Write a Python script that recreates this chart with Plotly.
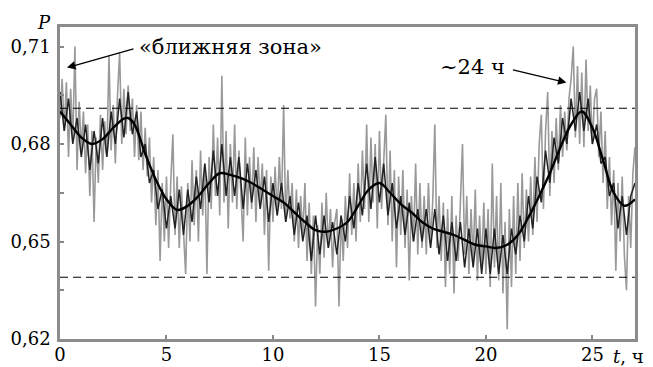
import numpy as np
import plotly.graph_objects as go

# raw signal, step 0.1 h
raw_p = [
    0.688, 0.700, 0.684, 0.699, 0.676, 0.697, 0.681, 0.710, 0.672, 0.693,
    0.678, 0.690, 0.671, 0.686, 0.664, 0.684, 0.656, 0.682, 0.668, 0.689,
    0.672, 0.687, 0.676, 0.707, 0.678, 0.692, 0.674, 0.695, 0.708, 0.680,
    0.697, 0.683, 0.698, 0.684, 0.694, 0.676, 0.692, 0.675, 0.690, 0.672,
    0.685, 0.670, 0.682, 0.662, 0.676, 0.655, 0.672, 0.644, 0.668, 0.650,
    0.670, 0.648, 0.668, 0.683, 0.652, 0.670, 0.648, 0.667, 0.653, 0.640,
    0.668, 0.650, 0.675, 0.655, 0.672, 0.650, 0.678, 0.658, 0.674, 0.640,
    0.676, 0.660, 0.686, 0.664, 0.682, 0.658, 0.701, 0.662, 0.684, 0.654,
    0.680, 0.662, 0.686, 0.660, 0.678, 0.664, 0.650, 0.682, 0.658, 0.676,
    0.660, 0.679, 0.656, 0.676, 0.662, 0.674, 0.652, 0.672, 0.641, 0.670,
    0.656, 0.673, 0.658, 0.676, 0.660, 0.692, 0.656, 0.672, 0.657, 0.668,
    0.650, 0.666, 0.648, 0.664, 0.652, 0.668, 0.644, 0.662, 0.640, 0.658,
    0.630, 0.655, 0.640, 0.662, 0.645, 0.665, 0.648, 0.660, 0.642, 0.656,
    0.660, 0.630, 0.658, 0.644, 0.664, 0.648, 0.671, 0.652, 0.668, 0.650,
    0.674, 0.656, 0.678, 0.660, 0.686, 0.656, 0.682, 0.662, 0.680, 0.654,
    0.684, 0.660, 0.676, 0.689, 0.655, 0.678, 0.650, 0.672, 0.642, 0.670,
    0.652, 0.672, 0.648, 0.666, 0.638, 0.664, 0.650, 0.674, 0.646, 0.668,
    0.648, 0.664, 0.646, 0.668, 0.650, 0.662, 0.686, 0.648, 0.664, 0.644,
    0.662, 0.636, 0.660, 0.640, 0.664, 0.634, 0.658, 0.644, 0.662, 0.680,
    0.646, 0.664, 0.640, 0.660, 0.644, 0.666, 0.638, 0.658, 0.642, 0.662,
    0.640, 0.660, 0.636, 0.674, 0.642, 0.664, 0.638, 0.668, 0.634, 0.656,
    0.623, 0.660, 0.636, 0.664, 0.640, 0.668, 0.644, 0.671, 0.648, 0.666,
    0.650, 0.670, 0.652, 0.676, 0.656, 0.680, 0.689, 0.660, 0.684, 0.696,
    0.664, 0.684, 0.668, 0.688, 0.672, 0.692, 0.676, 0.690, 0.678, 0.694,
    0.700, 0.710, 0.682, 0.704, 0.680, 0.702, 0.679, 0.706, 0.684, 0.698,
    0.680, 0.694, 0.697, 0.676, 0.690, 0.668, 0.684, 0.660, 0.676, 0.655,
    0.672, 0.641, 0.668, 0.650, 0.670, 0.646, 0.635, 0.664, 0.648, 0.671,
    0.679,
]

# partially filtered signal, step 0.2 h
mid_p = [
    0.696, 0.684, 0.694, 0.680, 0.688, 0.676, 0.686, 0.672, 0.684, 0.674,
    0.688, 0.676, 0.690, 0.680, 0.694, 0.682, 0.696, 0.683, 0.690, 0.676,
    0.680, 0.668, 0.672, 0.660, 0.666, 0.654, 0.664, 0.654, 0.666, 0.652,
    0.666, 0.656, 0.670, 0.660, 0.674, 0.662, 0.678, 0.664, 0.680, 0.664,
    0.676, 0.664, 0.676, 0.660, 0.674, 0.662, 0.672, 0.660, 0.670, 0.656,
    0.668, 0.658, 0.668, 0.656, 0.664, 0.652, 0.662, 0.650, 0.658, 0.644,
    0.658, 0.646, 0.658, 0.648, 0.656, 0.646, 0.658, 0.650, 0.664, 0.654,
    0.668, 0.658, 0.674, 0.660, 0.676, 0.662, 0.674, 0.658, 0.668, 0.654,
    0.664, 0.652, 0.662, 0.650, 0.660, 0.650, 0.660, 0.648, 0.660, 0.646,
    0.658, 0.644, 0.656, 0.644, 0.656, 0.642, 0.654, 0.642, 0.654, 0.640,
    0.654, 0.640, 0.654, 0.640, 0.652, 0.640, 0.654, 0.646, 0.658, 0.650,
    0.664, 0.654, 0.670, 0.662, 0.678, 0.668, 0.682, 0.674, 0.688, 0.680,
    0.694, 0.684, 0.696, 0.684, 0.694, 0.680, 0.686, 0.674, 0.676, 0.664,
    0.668, 0.654, 0.664, 0.652, 0.664, 0.668,
]

# smoothed curve
smooth_t = [0, 0.5, 1.0, 1.5, 2.0, 2.5, 3.0, 3.2, 3.5, 4.0, 4.5, 5.0, 5.5, 6.0, 6.5,
            7.0, 7.5, 8.0, 8.5, 9.0, 9.5, 10.0, 10.5, 11.0, 11.5, 12.0, 12.5, 13.0,
            13.5, 14.0, 14.5, 15.0, 15.5, 16.0, 16.5, 17.0, 17.5, 18.0, 18.5, 19.0,
            19.5, 20.0, 20.5, 21.0, 21.5, 22.0, 22.5, 23.0, 23.5, 24.0, 24.5, 25.0,
            25.5, 26.0, 26.5, 27.0]
smooth_p = [0.690, 0.686, 0.682, 0.680, 0.6815, 0.685, 0.6878, 0.688, 0.686, 0.677,
            0.669, 0.663, 0.6597, 0.661, 0.664, 0.668, 0.671, 0.6705, 0.6695, 0.668,
            0.666, 0.664, 0.662, 0.659, 0.656, 0.6535, 0.653, 0.654, 0.656, 0.661,
            0.666, 0.668, 0.665, 0.6615, 0.659, 0.656, 0.654, 0.653, 0.652, 0.6505,
            0.649, 0.6485, 0.648, 0.649, 0.652, 0.6575, 0.664, 0.671, 0.679, 0.686,
            0.690, 0.685, 0.675, 0.665, 0.661, 0.663]

levels = [0.691, 0.639]
y_ticks = [0.62, 0.635, 0.65, 0.665, 0.68, 0.695, 0.71]
y_labels = ["0,62", "", "0,65", "", "0,68", "", "0,71"]
x_ticks = [0, 5, 10, 15, 20, 25]
x_labels = ["0", "5", "10", "15", "20", "25"]

raw_t = np.linspace(0, 27, len(raw_p))
mid_t = np.linspace(0, 27, len(mid_p))

FONT = "DejaVu Serif"
FS = 18
FA = 21
W, H = 653, 367
ML, MR, MT, MB = 60, 18, 27, 28

fig = go.Figure()
fig.add_trace(go.Scatter(x=raw_t, y=raw_p, mode="lines",
                         line=dict(color="#999999", width=1.6), hoverinfo="skip"))
fig.add_trace(go.Scatter(x=mid_t, y=mid_p, mode="lines",
                         line=dict(color="#222222", width=1.5), hoverinfo="skip"))
fig.add_trace(go.Scatter(x=smooth_t, y=smooth_p, mode="lines", line_shape="spline",
                         line=dict(color="#000000", width=2.4), hoverinfo="skip"))
for lv in levels:
    fig.add_trace(go.Scatter(x=[0, 27], y=[lv, lv], mode="lines",
                             line=dict(color="#000000", width=1.2, dash="8px,5px"),
                             hoverinfo="skip"))

fig.update_layout(
    width=W, height=H,
    margin=dict(l=ML, r=MR, t=MT, b=MB, autoexpand=False),
    paper_bgcolor="white", plot_bgcolor="white",
    showlegend=False,
    font=dict(family=FONT, size=FS, color="black"),
)
fig.update_xaxes(range=[0, 27], tickvals=x_ticks, ticktext=x_labels,
                 ticks="inside", ticklen=4, tickcolor="#888", tickwidth=1.5,
                 showline=True, linecolor="#8c8c8c", linewidth=2.5, mirror=True,
                 showgrid=False, zeroline=False, automargin=False,
                 ticklabelstandoff=-2,
                 tickfont=dict(size=FS, family=FONT))
fig.update_yaxes(range=[0.62, 0.716], tickvals=y_ticks, ticktext=y_labels,
                 ticks="inside", ticklen=4, tickcolor="#888", tickwidth=1.5,
                 showline=True, linecolor="#8c8c8c", linewidth=2.5, mirror=True,
                 showgrid=False, zeroline=False, automargin=False,
                 ticklabelstandoff=3,
                 tickfont=dict(size=FS, family=FONT))

ann = [
    dict(x=0.33, y=0.7035, ax=3.52, ay=0.7094, axref="x", ayref="y", xref="x", yref="y",
         text="", showarrow=True, arrowhead=2, arrowsize=1.3, arrowwidth=1.3, arrowcolor="black"),
    dict(x=23.78, y=0.6989, ax=21.2, ay=0.7029, axref="x", ayref="y", xref="x", yref="y",
         text="", showarrow=True, arrowhead=2, arrowsize=1.3, arrowwidth=1.3, arrowcolor="black"),
    dict(x=230, y=47, xref="paper", yref="paper", text="«ближняя зона»", showarrow=False,
         font=dict(size=FA, family=FONT)),
    dict(x=472, y=67, xref="paper", yref="paper", text="~24 ч", showarrow=False,
         font=dict(size=FA, family=FONT)),
    dict(x=44, y=22, xref="paper", yref="paper", text="<i>P</i>", showarrow=False,
         font=dict(size=FS, family=FONT)),
    dict(x=628, y=356, xref="paper", yref="paper", text="<i>t</i>, ч", showarrow=False,
         font=dict(size=FS, family=FONT)),
]
# convert pixel-positioned annotations to paper coords
for a in ann:
    if a.get("xref") == "paper":
        a["x"] = (a["x"] - ML) / (W - ML - MR)
        a["y"] = 1 - (a["y"] - MT) / (H - MT - MB)
        a["xanchor"] = "center"
        a["yanchor"] = "middle"
fig.update_layout(annotations=ann)

fig.write_html("out.html")
